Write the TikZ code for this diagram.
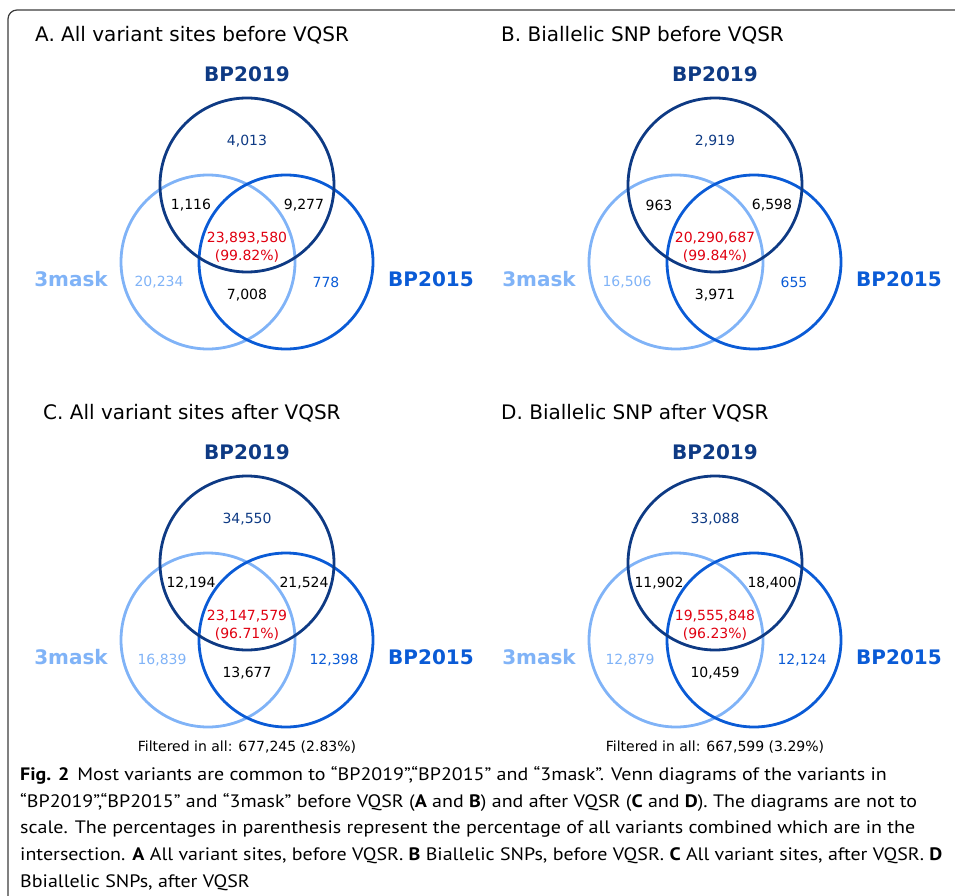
\documentclass[tikz,border=0pt]{standalone}
\usepackage{fontspec}
\setsansfont{DejaVu Sans}
\newfontfamily\capfont[FakeStretch=1.11]{PT Sans}
\usetikzlibrary{positioning}

\definecolor{c19}{RGB}{14,58,132}
\definecolor{cmask}{RGB}{128,179,247}
\definecolor{c15}{RGB}{10,91,214}
\definecolor{cred}{RGB}{224,0,16}
\definecolor{framegray}{RGB}{60,60,60}

\begin{document}
\begin{tikzpicture}[
    x=1pt, y=-1pt,
    every node/.style={font=\sffamily, inner sep=0pt},
    ring/.style={circle, minimum size=174pt, line width=2.8pt},
    title/.style={anchor=west, font=\sffamily\fontsize{20}{24}\selectfont},
    setname/.style={font=\sffamily\bfseries\fontsize{20}{24}\selectfont},
    count/.style={font=\sffamily\fontsize{14}{17}\selectfont},
    core/.style={count, text=cred, align=center, font=\sffamily\fontsize{14}{18}\selectfont},
    capline/.style={anchor=base west, font=\capfont\fontsize{18}{22}\selectfont}
]
\useasboundingbox (0,0) rectangle (955,896);

% outer frame
\draw[framegray, line width=1.2pt, rounded corners=9pt] (955,10) -- (8,10) -- (8,896);

% the four Venn panels
\foreach \pn/\ox/\oy/\tx/\ttl/\na/\nb/\nc/\nd/\pc/\ne/\nf/\ng/\lx/\rx in {
    A/0/0/35/{A. All variant sites before VQSR}/{4,013}/{1,116}/{9,277}/{23,893,580}/{99.82}/{20,234}/{778}/{7,008}/159/326,
    B/468/0/33/{B. Biallelic SNP before VQSR}/{2,919}/{963}/{6,598}/{20,290,687}/{99.84}/{16,506}/{655}/{3,971}/159/326,
    C/0/378/43/{C. All variant sites after VQSR}/{34,550}/{12,194}/{21,524}/{23,147,579}/{96.71}/{16,839}/{12,398}/{13,677}/162/334,
    D/468/378/33/{D. Biallelic SNP after VQSR}/{33,088}/{11,902}/{18,400}/{19,555,848}/{96.23}/{12,879}/{12,124}/{10,459}/162/334}
{
    \node[ring, draw=cmask] (\pn-cm) at ({\ox+208},{\oy+262}) {};
    \node[ring, draw=c15] (\pn-c15) at ({\ox+286},{\oy+262}) {};
    \node[ring, draw=c19] (\pn-c19) at ({\ox+247},{\oy+185}) {};

    \node[title] (\pn-title) at ({\ox+\tx},{\oy+35}) {\ttl};
    \node[setname, text=c19] (\pn-l19) at ({\ox+247},{\oy+74}) {BP2019};
    \node[setname, text=cmask] (\pn-lm) at ({\ox+71},{\oy+279}) {3mask};
    \node[setname, text=c15] (\pn-l15) at ({\ox+431},{\oy+279}) {BP2015};

    \node[count, text=c19] (\pn-n19) at ({\ox+247},{\oy+141}) {\na};
    \node[count] (\pn-n19m) at ({\ox+191},{\oy+205}) {\nb};
    \node[count] (\pn-n1915) at ({\ox+304},{\oy+205}) {\nc};
    \node[core] (\pn-all) at ({\ox+247},{\oy+247}) {\nd\\(\pc\%)};
    \node[count, text=cmask] (\pn-nm) at ({\ox+\lx},{\oy+282}) {\ne};
    \node[count, text=c15] (\pn-n15) at ({\ox+\rx},{\oy+282}) {\nf};
    \node[count] (\pn-nm15) at ({\ox+247},{\oy+295}) {\ng};
}

\node[count] (C-filt) at (247,747) {Filtered in all: 677,245 (2.83\%)};
\node[count] (D-filt) at (715,747) {Filtered in all: 667,599 (3.29\%)};

% caption
\node[capline] (cap1) at (20,780) {\textbf{Fig. 2}\hspace{8pt}Most variants are common to “BP2019”,“BP2015” and “3mask”. Venn diagrams of the variants in};
\node[capline] (cap2) at (20,807) {“BP2019”,“BP2015” and “3mask” before VQSR (\textbf{A} and \textbf{B}) and after VQSR (\textbf{C} and \textbf{D}). The diagrams are not to};
\node[capline] (cap3) at (20,833) {scale. The percentages in parenthesis represent the percentage of all variants combined which are in the};
\node[capline] (cap4) at (20,860) {intersection. \textbf{A} All variant sites, before VQSR. \textbf{B} Biallelic SNPs, before VQSR. \textbf{C} All variant sites, after VQSR. \textbf{D}};
\node[capline] (cap5) at (20,887) {Bbiallelic SNPs, after VQSR};
\end{tikzpicture}
\end{document}
